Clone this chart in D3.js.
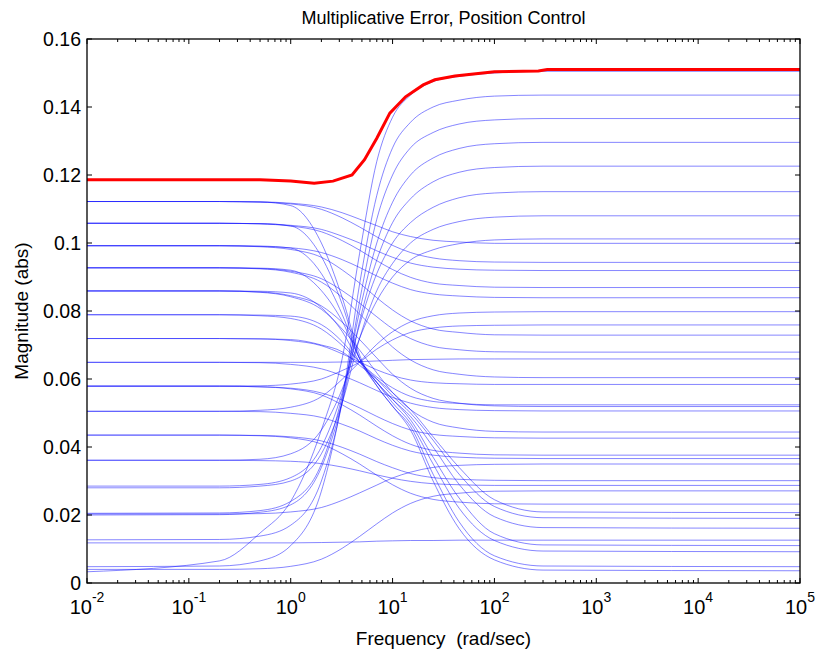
<!DOCTYPE html>
<meta charset="utf-8">
<style>
body { margin: 0; background: #fff; }
text { font-family: "Liberation Sans", Arial, sans-serif; fill: #000; }
.sample { fill: none; stroke: #1010ff; stroke-width: 0.85px; stroke-opacity: 0.6; }
.bound { fill: none; stroke: #ff0000; stroke-width: 3px; }
</style>
<body>
<script src="https://d3js.org/d3.v7.min.js"></script>
<script>

// frequency grid (rad/sec) shared by all sampled curves
var freqs = [0.01, 0.2, 0.5, 1, 2, 3.2, 4.75, 7, 10, 15, 25, 45, 100, 300, 1e5];

// rising curves (low at DC, high at high frequency)
var rising = [
  [0.0033, 0.0065, 0.0147, 0.024, 0.045, 0.066, 0.097, 0.124, 0.137, 0.1435, 0.1475, 0.149, 0.150, 0.1505, 0.1505],
  [0.0048, 0.0050, 0.0065, 0.011, 0.027, 0.054, 0.088, 0.114, 0.128, 0.1355, 0.1400, 0.1420, 0.1432, 0.1435, 0.1435],
  [0.0127, 0.0128, 0.0138, 0.017, 0.030, 0.053, 0.083, 0.107, 0.120, 0.128, 0.1325, 0.1350, 0.1362, 0.1366, 0.1366],
  [0.0205, 0.0206, 0.0213, 0.024, 0.035, 0.055, 0.080, 0.100, 0.112, 0.120, 0.125, 0.1278, 0.1292, 0.1296, 0.1296],
  [0.0200, 0.0201, 0.0208, 0.023, 0.034, 0.053, 0.077, 0.095, 0.106, 0.113, 0.118, 0.1208, 0.1222, 0.1226, 0.1226],
  [0.0285, 0.0285, 0.0290, 0.031, 0.040, 0.056, 0.076, 0.091, 0.100, 0.106, 0.1105, 0.1133, 0.1147, 0.1151, 0.1151],
  [0.0280, 0.0280, 0.0285, 0.030, 0.038, 0.053, 0.072, 0.086, 0.094, 0.100, 0.104, 0.1063, 0.1076, 0.1080, 0.1080],
  [0.0361, 0.0361, 0.0364, 0.038, 0.045, 0.057, 0.072, 0.083, 0.090, 0.095, 0.098, 0.0998, 0.1009, 0.1012, 0.1012]
];

// falling curves (high at DC, low at high frequency), all through the knot near 4.75 rad/sec
var falling = [
  [0.1122, 0.1122, 0.1121, 0.1110, 0.1000, 0.0840, 0.0670, 0.0580, 0.0520, 0.0450, 0.0300, 0.0160, 0.0068, 0.0038, 0.0036],
  [0.1058, 0.1058, 0.1057, 0.1050, 0.0960, 0.0820, 0.0660, 0.0580, 0.0520, 0.0460, 0.0320, 0.0180, 0.0080, 0.0050, 0.0048],
  [0.0992, 0.0992, 0.0991, 0.0985, 0.0910, 0.0790, 0.0660, 0.0590, 0.0530, 0.0470, 0.0350, 0.0220, 0.0125, 0.0094, 0.0092],
  [0.0927, 0.0927, 0.0926, 0.0920, 0.0860, 0.0770, 0.0660, 0.0590, 0.0540, 0.0480, 0.0370, 0.0250, 0.0145, 0.0112, 0.0110],
  [0.0859, 0.0859, 0.0858, 0.0853, 0.0810, 0.0740, 0.0650, 0.0590, 0.0540, 0.0490, 0.0400, 0.0290, 0.0195, 0.0163, 0.0161],
  [0.0789, 0.0789, 0.0788, 0.0785, 0.0760, 0.0710, 0.0650, 0.0600, 0.0550, 0.0500, 0.0420, 0.0320, 0.0225, 0.0192, 0.0190],
  [0.0719, 0.0719, 0.0718, 0.0716, 0.0700, 0.0680, 0.0640, 0.0600, 0.0560, 0.0510, 0.0430, 0.0340, 0.0245, 0.0209, 0.0207]
];

// curves crossing near 4.75 rad/sec, 0.065
var crossing = [
  [0.0789, 0.0789, 0.0786, 0.0778, 0.0747, 0.0699, 0.0650, 0.0606, 0.0574, 0.0549, 0.0534, 0.0528, 0.0524, 0.0524, 0.0524],
  [0.0719, 0.0719, 0.0718, 0.0713, 0.0698, 0.0674, 0.0650, 0.0627, 0.0610, 0.0597, 0.0589, 0.0586, 0.0584, 0.0584, 0.0584],
  [0.0649, 0.0649, 0.0649, 0.0649, 0.0649, 0.0650, 0.0651, 0.0653, 0.0655, 0.0657, 0.0658, 0.0659, 0.0659, 0.0659, 0.0659],
  [0.0579, 0.0579, 0.0580, 0.0585, 0.0600, 0.0625, 0.0650, 0.0688, 0.0715, 0.0737, 0.0750, 0.0756, 0.0758, 0.0759, 0.0759],
  [0.0505, 0.0505, 0.0508, 0.0517, 0.0548, 0.0599, 0.0650, 0.0702, 0.0739, 0.0768, 0.0786, 0.0794, 0.0797, 0.0798, 0.0798]
];

// slowly changing curves
var gentle = [
  [0.1122, 0.1122, 0.1121, 0.1117, 0.1106, 0.1089, 0.1070, 0.1051, 0.1033, 0.1019, 0.1008, 0.1003, 0.0999, 0.0999, 0.0999],
  [0.1122, 0.1122, 0.1120, 0.1115, 0.1099, 0.1074, 0.1047, 0.1018, 0.0993, 0.0972, 0.0956, 0.0948, 0.0944, 0.0943, 0.0943],
  [0.1058, 0.1058, 0.1057, 0.1052, 0.1040, 0.1020, 0.1000, 0.0977, 0.0958, 0.0941, 0.0929, 0.0923, 0.0920, 0.0919, 0.0919],
  [0.1058, 0.1058, 0.1056, 0.1050, 0.1033, 0.1007, 0.0979, 0.0948, 0.0922, 0.0899, 0.0882, 0.0875, 0.0870, 0.0869, 0.0869],
  [0.0992, 0.0992, 0.0990, 0.0986, 0.0972, 0.0951, 0.0928, 0.0903, 0.0882, 0.0863, 0.0850, 0.0844, 0.0840, 0.0839, 0.0839],
  [0.0992, 0.0992, 0.0989, 0.0981, 0.0958, 0.0921, 0.0882, 0.0839, 0.0803, 0.0771, 0.0747, 0.0737, 0.0730, 0.0729, 0.0729],
  [0.0927, 0.0927, 0.0925, 0.0917, 0.0895, 0.0860, 0.0823, 0.0783, 0.0748, 0.0719, 0.0696, 0.0686, 0.0680, 0.0679, 0.0679],
  [0.0927, 0.0927, 0.0924, 0.0914, 0.0885, 0.0840, 0.0791, 0.0740, 0.0694, 0.0656, 0.0627, 0.0614, 0.0606, 0.0604, 0.0604],
  [0.0859, 0.0859, 0.0856, 0.0845, 0.0815, 0.0767, 0.0716, 0.0662, 0.0614, 0.0573, 0.0543, 0.0529, 0.0521, 0.0519, 0.0519],
  [0.0859, 0.0859, 0.0855, 0.0842, 0.0805, 0.0747, 0.0685, 0.0618, 0.0560, 0.0510, 0.0473, 0.0456, 0.0446, 0.0444, 0.0444],
  [0.0649, 0.0649, 0.0648, 0.0643, 0.0630, 0.0610, 0.0589, 0.0566, 0.0546, 0.0529, 0.0516, 0.0510, 0.0507, 0.0506, 0.0506],
  [0.0579, 0.0579, 0.0577, 0.0573, 0.0559, 0.0538, 0.0515, 0.0490, 0.0469, 0.0450, 0.0437, 0.0431, 0.0427, 0.0426, 0.0426],
  [0.0579, 0.0579, 0.0577, 0.0571, 0.0553, 0.0524, 0.0494, 0.0461, 0.0433, 0.0408, 0.0390, 0.0382, 0.0377, 0.0376, 0.0376],
  [0.0505, 0.0505, 0.0504, 0.0499, 0.0487, 0.0467, 0.0447, 0.0424, 0.0405, 0.0388, 0.0376, 0.0370, 0.0367, 0.0366, 0.0366],
  [0.0203, 0.0203, 0.0204, 0.0209, 0.0222, 0.0243, 0.0265, 0.0288, 0.0309, 0.0326, 0.0340, 0.0346, 0.0349, 0.0350, 0.0350],
  [0.0435, 0.0435, 0.0434, 0.0430, 0.0418, 0.0399, 0.0379, 0.0357, 0.0339, 0.0322, 0.0310, 0.0305, 0.0302, 0.0301, 0.0301],
  [0.0361, 0.0361, 0.0360, 0.0358, 0.0351, 0.0341, 0.0330, 0.0318, 0.0308, 0.0299, 0.0292, 0.0289, 0.0287, 0.0287, 0.0287],
  [0.0040, 0.0040, 0.0042, 0.0049, 0.0070, 0.0102, 0.0137, 0.0174, 0.0206, 0.0234, 0.0255, 0.0264, 0.0270, 0.0271, 0.0271],
  [0.0435, 0.0435, 0.0433, 0.0427, 0.0409, 0.0380, 0.0350, 0.0317, 0.0289, 0.0264, 0.0246, 0.0238, 0.0233, 0.0232, 0.0232],
  [0.0118, 0.0118, 0.0118, 0.0118, 0.0119, 0.0120, 0.0121, 0.0123, 0.0124, 0.0125, 0.0125, 0.0126, 0.0126, 0.0126, 0.0126]
];

// red upper bound
var boundFreqs = [0.01, 0.5, 1, 1.7, 2.6, 4, 5.3, 7, 9.4, 13.4, 20, 26, 41, 100, 270, 330, 1e5];
var boundMags  = [0.1186, 0.1186, 0.1182, 0.1176, 0.1182, 0.1200, 0.1245, 0.1308, 0.1382, 0.1430, 0.1465, 0.1480, 0.1491, 0.1504, 0.1506, 0.1510, 0.1510];

var yTicks = [0, 0.02, 0.04, 0.06, 0.08, 0.1, 0.12, 0.14, 0.16];
var yTickLabels = ["0", "0.02", "0.04", "0.06", "0.08", "0.1", "0.12", "0.14", "0.16"];
var xDecades = [-2, -1, 0, 1, 2, 3, 4, 5];

var W = 817, H = 656;
var margin = {left: 87, right: 800, top: 39, bottom: 583};

var svg = d3.select("body").append("svg")
    .attr("width", W)
    .attr("height", H);

var x = d3.scaleLog().domain([1e-2, 1e5]).range([margin.left, margin.right]);
var y = d3.scaleLinear().domain([0, 0.16]).range([margin.bottom, margin.top]);

svg.append("clipPath").attr("id", "plotclip")
  .append("rect")
    .attr("x", margin.left).attr("y", margin.top)
    .attr("width", margin.right - margin.left).attr("height", margin.bottom - margin.top);

var line = d3.line()
    .x(function(d) { return x(d[0]); })
    .y(function(d) { return y(d[1]); })
    .curve(d3.curveMonotoneX);

var plot = svg.append("g").attr("clip-path", "url(#plotclip)");

var samples = rising.concat(falling, crossing, gentle);

plot.selectAll(".sample")
  .data(samples)
  .enter().append("path")
    .attr("class", "sample")
    .attr("d", function(mags) {
      return line(mags.map(function(m, i) { return [freqs[i], m]; }));
    });

plot.append("path")
    .attr("class", "bound")
    .attr("d", d3.line()
      .x(function(d) { return x(d[0]); })
      .y(function(d) { return y(d[1]); })(boundMags.map(function(m, i) { return [boundFreqs[i], m]; })));

// box
svg.append("rect")
    .attr("x", margin.left).attr("y", margin.top)
    .attr("width", margin.right - margin.left).attr("height", margin.bottom - margin.top)
    .attr("fill", "none").attr("stroke", "#000").attr("stroke-width", 1.3);

// inward ticks, matlab style
var ticks = svg.append("g").attr("stroke", "#000").attr("stroke-width", 1);

yTicks.forEach(function(v) {
  ticks.append("line").attr("x1", margin.left).attr("x2", margin.left + 5).attr("y1", y(v)).attr("y2", y(v));
  ticks.append("line").attr("x1", margin.right).attr("x2", margin.right - 5).attr("y1", y(v)).attr("y2", y(v));
});

xDecades.forEach(function(e) {
  var xv = x(Math.pow(10, e));
  ticks.append("line").attr("x1", xv).attr("x2", xv).attr("y1", margin.bottom).attr("y2", margin.bottom - 5);
  ticks.append("line").attr("x1", xv).attr("x2", xv).attr("y1", margin.top).attr("y2", margin.top + 5);
  if (e < 5) {
    for (var k = 2; k <= 9; k++) {
      var xm = x(k * Math.pow(10, e));
      ticks.append("line").attr("x1", xm).attr("x2", xm).attr("y1", margin.bottom).attr("y2", margin.bottom - 3);
      ticks.append("line").attr("x1", xm).attr("x2", xm).attr("y1", margin.top).attr("y2", margin.top + 3);
    }
  }
});

// y tick labels
svg.selectAll(".ylab")
  .data(yTicks)
  .enter().append("text")
    .attr("class", "ylab")
    .attr("x", margin.left - 6)
    .attr("y", function(d) { return y(d) + 7; })
    .attr("text-anchor", "end")
    .style("font-size", "19.5px")
    .text(function(d, i) { return yTickLabels[i]; });

// x tick labels 10^e
var xl = svg.selectAll(".xlab")
  .data(xDecades)
  .enter().append("text")
    .attr("class", "xlab")
    .attr("x", function(e) { return x(Math.pow(10, e)); })
    .attr("y", 614)
    .attr("text-anchor", "middle")
    .style("font-size", "20px");
xl.append("tspan").text("10");
xl.append("tspan")
    .attr("dy", -12)
    .style("font-size", "14px")
    .text(function(e) { return e; });

svg.append("text")
    .attr("x", (margin.left + margin.right) / 2)
    .attr("y", 645)
    .attr("text-anchor", "middle")
    .attr("xml:space", "preserve")
    .style("font-size", "19px")
    .text("Frequency  (rad/sec)");

svg.append("text")
    .attr("transform", "translate(28," + ((margin.top + margin.bottom) / 2) + ") rotate(-90)")
    .attr("text-anchor", "middle")
    .style("font-size", "19px")
    .text("Magnitude (abs)");

svg.append("text")
    .attr("x", (margin.left + margin.right) / 2)
    .attr("y", 24)
    .attr("text-anchor", "middle")
    .style("font-size", "18px")
    .text("Multiplicative Error, Position Control");

</script>
</body>
